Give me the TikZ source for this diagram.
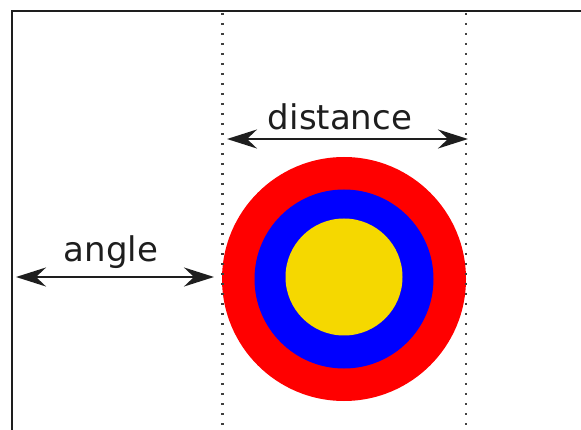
\documentclass[tikz,border=0pt]{standalone}
\usepackage{xcolor,tikz,fontspec}
\setmainfont{DejaVu Sans}
\usetikzlibrary{arrows.meta,positioning}
\definecolor{ink}{RGB}{30,30,30}
\definecolor{ringred}{RGB}{255,0,0}
\definecolor{ringblue}{RGB}{0,0,255}
\definecolor{ringyellow}{RGB}{245,216,0}
\tikzset{
  frame/.style={line width=2.6pt,draw=ink},
  guide/.style={line width=2.6pt,draw=ink!85,dash pattern=on 1.8pt off 8.2pt},
  dim/.style={{Stealth[length=30pt,width=19pt,inset=10pt]}-{Stealth[length=30pt,width=19pt,inset=10pt]},line width=2.4pt,draw=ink},
  lab/.style={font=\fontsize{34}{40}\selectfont,text=ink,inner sep=0pt,anchor=base},
  ring/.style={circle,inner sep=0pt,draw=none}
}
\begin{document}
\begin{tikzpicture}[x=1pt,y=-1pt]
  \useasboundingbox (0,0) rectangle (581,430);
  % target
  \node[ring,fill=ringred,minimum size=244pt] (outer) at (344,279) {};
  \node[ring,fill=ringblue,minimum size=179pt] (middle) at (344,279) {};
  \node[ring,fill=ringyellow,minimum size=117pt] (inner) at (344,277) {};
  % frame and guides
  \draw[frame] (12,431) -- (12,11) -- (582,11);
  \coordinate (gl top) at (222.5,13);
  \coordinate (gl bot) at (222.5,430);
  \coordinate (gr top) at (466,13);
  \coordinate (gr bot) at (466,430);
  \draw[guide] (gl top) -- (gl bot);
  \draw[guide] (gr top) -- (gr bot);
  % dimensions
  \coordinate (d0) at (227,139);
  \coordinate (d1) at (468,139);
  \coordinate (a0) at (16,277);
  \coordinate (a1) at (214,277);
  \draw[dim] (d0) -- (d1);
  \draw[dim] (a0) -- (a1);
  \node[lab] (distance) at (340,130) {distance};
  \node[lab] (angle) at (111,262) {angle};
\end{tikzpicture}
\end{document}
